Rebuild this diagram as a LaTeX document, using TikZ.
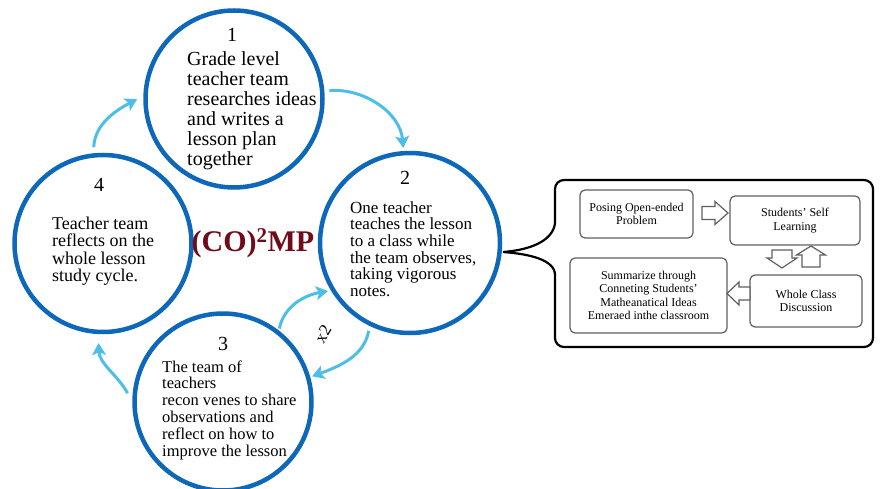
\documentclass[tikz,border=0pt]{standalone}
\usepackage{fontspec}
\setmainfont{Liberation Serif}
\usetikzlibrary{arrows.meta}

\definecolor{ringblue}{RGB}{14,104,186}
\definecolor{cycleblue}{RGB}{76,190,232}
\definecolor{titlered}{RGB}{112,12,26}
\definecolor{boxgray}{RGB}{95,95,95}

\begin{document}
\begin{tikzpicture}[x=1pt,y=1pt,
  stage/.style={draw=ringblue, line width=4.5pt, circle, inner sep=0pt, minimum size=177pt},
  cyclearrow/.style={draw=cycleblue, line width=3pt, -{Stealth[length=12pt,width=14pt,inset=3pt]}},
  stagenum/.style={anchor=base, inner sep=0pt, font=\fontsize{20}{20}\selectfont},
  stagetext/.style={anchor=base west, align=left, inner sep=0pt},
  stepbox/.style={draw=boxgray, line width=1.2pt, rounded corners=5pt, align=center, inner sep=0pt,
    font=\fontsize{12}{13.4}\selectfont},
  blockarrow/.style={draw=boxgray, line width=1.2pt, fill=white, line join=miter}]

\useasboundingbox (0,0) rectangle (880,488);

% The four stages of the cycle
\node[stage] (c1) at (234,389) {};
\node[stage, minimum size=180pt] (c2) at (410,245) {};
\node[stage] (c3) at (223,86) {};
\node[stage] (c4) at (103,244.5) {};

% Stage 1 (base of a multi-line node = last line)
\node[stagenum] (n1) at (232,446) {1};
\node[stagetext, font=\fontsize{20}{20}\selectfont] (t1) at (187,322)
  {Grade level\\teacher team\\researches ideas\\and writes a\\lesson plan\\together};

% Stage 2
\node[stagenum] (n2) at (405,303) {2};
\node[stagetext, font=\fontsize{17}{16.7}\selectfont] (t2) at (350,191.5)
  {One teacher\\teaches the lesson\\to a class while\\the team observes,\\taking vigorous\\notes.};

% Stage 3
\node[stagenum] (n3) at (223,138) {3};
\node[stagetext, font=\fontsize{16.5}{16.8}\selectfont] (t3) at (162,32)
  {The team of\\teachers\\recon venes to share\\observations and\\reflect on how to\\improve the lesson};

% Stage 4
\node[stagenum] (n4) at (99,296) {4};
\node[stagetext, font=\fontsize{18}{17.6}\selectfont] (t4) at (52,206.2)
  {Teacher team\\reflects on the\\whole lesson\\study cycle.};

% Title in the middle
\node[text=titlered, font=\fontsize{30}{30}\selectfont\bfseries] (title) at (253,245) {(CO)\textsuperscript{2}MP};

% Arrows round the cycle
\draw[cyclearrow, shorten <=5pt, shorten >=3pt] (c1.5) to[out=5, in=95] (c2.94);
\draw[cyclearrow, shorten <=2pt, shorten >=3pt] (c3.52) to[out=78, in=190] (c2.211);
\draw[cyclearrow, shorten <=5pt, shorten >=2pt] (c2.244) to[out=-100, in=20] (c3.16);
\draw[cyclearrow, shorten <=10pt, shorten >=9pt] (c3.180) to[out=118, in=-88] (c4.267);
\draw[cyclearrow, shorten <=6pt, shorten >=7pt] (c4.96) to[out=88, in=208] (c1.178);
\node[rotate=60, font=\fontsize{17}{17}\selectfont] (twice) at (323,154) {x2};

% Speech bubble
\draw[line width=2.2pt, line cap=round, rounded corners=9pt] (555,265) -- (555,308) -- (873,308) -- (873,141) -- (555,141) -- (555,213);
\draw[line width=2.2pt, line cap=round] (555,213) .. controls (555,228) and (530,234) .. (503,236)
  .. controls (530,238) and (553,247) .. (555,265);

% Lesson steps
\node[stepbox, minimum width=113pt, minimum height=48pt] (pose) at (636.5,274) {Posing Open-ended\\Problem};
\node[stepbox, minimum width=130pt, minimum height=49pt] (self) at (795,267.5) {Students’ Self\\Learning};
\node[stepbox, minimum width=112pt, minimum height=52pt] (whole) at (806,187) {Whole Class\\Discussion};
\node[stepbox, minimum width=157pt, minimum height=75pt] (summ) at (648.5,192.5)
  {Summarize through\\Conneting Students’\\Matheanatical Ideas\\Emeraed inthe classroom};

% Hollow arrows between the steps
\draw[blockarrow, shift={(715,275)}] (-13,-6.5) -- (0,-6.5) -- (0,-11.5) -- (13,0) -- (0,11.5) -- (0,6.5) -- (-13,6.5) -- cycle;
\draw[blockarrow, shift={(782,229)}, rotate=-90] (-9,-10) -- (-1,-10) -- (-1,-15) -- (9,0) -- (-1,15) -- (-1,10) -- (-9,10) -- cycle;
\draw[blockarrow, shift={(811,231.5)}, rotate=90] (-10.5,-9) -- (1.5,-9) -- (1.5,-14.5) -- (10.5,0) -- (1.5,14.5) -- (1.5,9) -- (-10.5,9) -- cycle;
\draw[blockarrow, shift={(738.5,194.5)}, rotate=180] (-11.5,-6.5) -- (-0.5,-6.5) -- (-0.5,-11.5) -- (11.5,0) -- (-0.5,11.5) -- (-0.5,6.5) -- (-11.5,6.5) -- cycle;

\end{tikzpicture}
\end{document}
